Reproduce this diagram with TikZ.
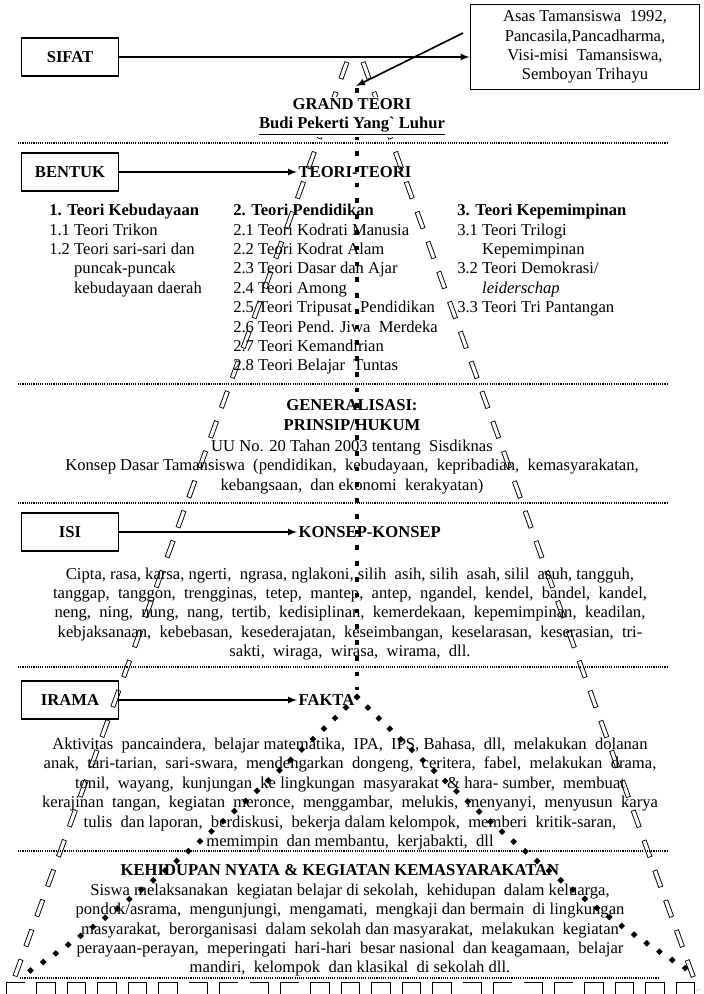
\documentclass[tikz,border=0pt]{standalone}
\usepackage{fontspec}
\setmainfont{Liberation Serif}
\usetikzlibrary{arrows}
\usetikzlibrary{calc}
\usetikzlibrary{positioning}
\usetikzlibrary{shapes.geometric}
\usetikzlibrary{decorations.markings}

\tikzset{
  labelbox/.style={draw, line width=1.3pt, minimum width=70pt, minimum height=27pt, font=\fontsize{12}{14}\selectfont\bfseries},
  heading/.style={font=\fontsize{12}{14}\selectfont\bfseries, align=center, inner sep=1pt},
  body/.style={align=center, inner sep=0pt},
  sepline/.style={line width=0.8pt, dash pattern=on 0.8pt off 0.8pt},
  hollowdash/.style={line width=3.6pt, dash pattern=on 13pt off 10pt,
    postaction={draw=white, line width=2.3pt, dash pattern=on 11.8pt off 11.2pt, dash phase=22.4pt}},
  bottomdash/.style={line width=11pt, dash pattern=on 14pt off 8pt,
    postaction={draw=white, line width=9.6pt, dash pattern=on 12.8pt off 9.2pt, dash phase=21.4pt}},
  squaredots/.style={line width=3.4pt, dash pattern=on 3.4pt off 8pt},
  diamonddots/.style={decorate, decoration={markings,
    mark=between positions 0 and 1 step 11pt with {\node[diamond, fill, inner sep=0pt, minimum size=5pt]{};}}},
  link/.style={line width=1.2pt, -latex}
}

\begin{document}
\begin{tikzpicture}[x=0.254mm, y=-0.254mm, font=\fontsize{12}{14}\selectfont]
\path[use as bounding box, fill=white] (0,0) rectangle (704,994);

% pyramid
\coordinate (topleft) at (347,62);
\coordinate (botleft) at (10,990);
\coordinate (topright) at (363,62);
\coordinate (botright) at (698,990);
\coordinate (split) at (357,697);
\coordinate (cornerL) at (22,976);
\coordinate (cornerR) at (698,976);
\draw[hollowdash] (topleft) -- (botleft);
\draw[hollowdash] (topright) -- (botright);
\draw[bottomdash] (6,990) -- (702,990);
\draw[squaredots] (357,88) -- (357,690);
\path[diamonddots] (split) .. controls (250,800) and (140,900) .. (cornerL);
\path[diamonddots] (split) .. controls (462,800) and (572,900) .. (cornerR);

% separators
\foreach \y in {143,384,503,667,851}
  \draw[sepline] (18,\y) -- (667,\y);
\draw[sepline] (20,978) -- (659,978);

% sifat
\node[labelbox] (sifat) at (70,57) {SIFAT};
\node[draw, line width=0.9pt, align=center, minimum width=166pt, minimum height=61pt] (asas) at (585,47)
  {Asas Tamansiswa\ \ 1992,\\ Pancasila,Pancadharma,\\ Visi-misi\ \ Tamansiswa,\\ Semboyan Trihayu};
\coordinate (asasfoot) at (463,33);
\coordinate (apex) at (356,86);
\draw[link] (sifat) -- (sifat -| asas.west);
\draw[link] (asasfoot) -- (apex);
\node[heading, fill=white] (grand) at (352,117) {GRAND TEORI\\ \underline{Budi Pekerti Yang\textasciigrave\ Luhur}};

% bentuk
\node[labelbox] (bentuk) at (70,172) {BENTUK};
\node[heading, anchor=west] (teori) at (297,172) {TEORI-TEORI};
\draw[link] (bentuk) -- (teori);
\node[anchor=north west, align=left, inner sep=0pt] (kebudayaan) at (49,204)
  {\textbf{1. Teori Kebudayaan}\\ 1.1 Teori Trikon\\ 1.2 Teori sari-sari dan\\
   \hphantom{1.2 }puncak-puncak\\ \hphantom{1.2 }kebudayaan daerah};
\node[anchor=north west, align=left, inner sep=0pt] (pendidikan) at (233,204)
  {\textbf{2. Teori Pendidikan}\\ 2.1 Teori Kodrati Manusia\\ 2.2 Teori Kodrat Alam\\
   2.3 Teori Dasar dan Ajar\\ 2.4 Teori Among\\ 2.5 Teori Tripusat\ \ Pendidikan\\
   2.6 Teori Pend. Jiwa\ \ Merdeka\\ 2.7 Teori Kemandirian\\ 2.8 Teori Belajar\ \ Tuntas};
\node[anchor=north west, align=left, inner sep=0pt] (kepemimpinan) at (457,204)
  {\textbf{3. Teori Kepemimpinan}\\ 3.1 Teori Trilogi\\ \hphantom{3.1 }Kepemimpinan\\
   3.2 Teori Demokrasi/\\ \hphantom{3.1 }\textit{leiderschap}\\ 3.3 Teori Tri Pantangan};

% generalisasi
\node[heading] (general) at (352,415) {GENERALISASI:\\ PRINSIP/HUKUM};
\node[body] (sisdiknas) at (352,467)
  {UU No. 20 Tahan 2003 tentang\ \ Sisdiknas\\
   Konsep Dasar Tamansiswa\ \ (pendidikan,\ \ kebudayaan,\ \ kepribadian,\ \ kemasyarakatan,\\
   kebangsaan,\ \ dan ekonomi\ \ kerakyatan)};

% isi
\node[labelbox] (isi) at (70,532) {ISI};
\node[heading, anchor=west] (konsep) at (297,532) {KONSEP-KONSEP};
\draw[link] (isi) -- (konsep);
\node[body] (nilai) at (350,614)
  {Cipta, rasa, karsa, ngerti,\ \ ngrasa, nglakoni, silih\ \ asih, silih\ \ asah, silil\ \ asuh, tangguh,\\
   tanggap,\ \ tanggon,\ \ trengginas,\ \ tetep,\ \ mantep,\ \ antep,\ \ ngandel,\ \ kendel,\ \ bandel,\ \ kandel,\\
   neng,\ \ ning,\ \ nung,\ \ nang,\ \ tertib,\ \ kedisiplinan,\ \ kemerdekaan,\ \ kepemimpinan,\ \ keadilan,\\
   kebjaksanaan,\ \ kebebasan,\ \ kesederajatan,\ \ keseimbangan,\ \ keselarasan,\ \ keserasian,\ \ tri-\\
   sakti,\ \ wiraga,\ \ wirasa,\ \ wirama,\ \ dll.};

% irama
\node[labelbox] (irama) at (70,700) {IRAMA};
\node[heading, anchor=west] (fakta) at (297,700) {FAKTA};
\draw[link] (irama) -- (fakta);
\node[body] (aktivitas) at (350,794)
  {Aktivitas\ \ pancaindera,\ \ belajar matematika,\ \ IPA,\ \ IPS, Bahasa,\ \ dll,\ \ melakukan\ \ dolanan\\
   anak,\ \ tari-tarian,\ \ sari-swara,\ \ mendengarkan\ \ dongeng,\ \ ceritera,\ \ fabel,\ \ melakukan\ \ drama,\\
   tonil,\ \ wayang,\ \ kunjungan\ \ ke lingkungan\ \ masyarakat\ \ \& hara- sumber,\ \ membuat\\
   kerajinan\ \ tangan,\ \ kegiatan\ \ meronce,\ \ menggambar,\ \ melukis,\ \ menyanyi,\ \ menyusun\ \ karya\\
   tulis\ \ dan laporan,\ \ berdiskusi,\ \ bekerja dalam kelompok,\ \ memberi\ \ kritik-saran,\\
   memimpin\ \ dan membantu,\ \ kerjabakti,\ \ dll};

% kehidupan
\node[heading] (kehidupan) at (340,870) {KEHIDUPAN NYATA \& KEGIATAN KEMASYARAKATAN};
\node[body] (siswa) at (350,930)
  {Siswa melaksanakan\ \ kegiatan belajar di sekolah,\ \ kehidupan\ \ dalam keluarga,\\
   pondok/asrama,\ \ mengunjungi,\ \ mengamati,\ \ mengkaji dan bermain\ \ di lingkungan\\
   masyarakat,\ \ berorganisasi\ \ dalam sekolah dan masyarakat,\ \ melakukan\ \ kegiatan\\
   perayaan-perayan,\ \ meperingati\ \ hari-hari\ \ besar nasional\ \ dan keagamaan,\ \ belajar\\
   mandiri,\ \ kelompok\ \ dan klasikal\ \ di sekolah dll.};
\end{tikzpicture}
\end{document}
